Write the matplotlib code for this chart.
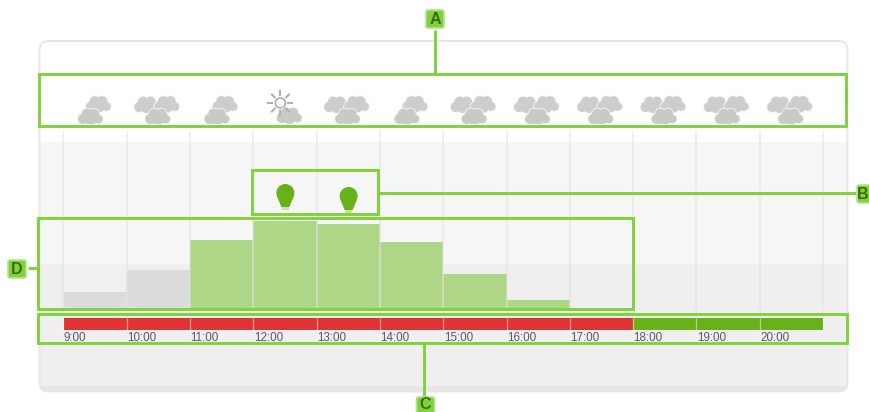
import math
import matplotlib
matplotlib.use("Agg")
import matplotlib.pyplot as plt
from matplotlib.patches import Circle, FancyBboxPatch, Polygon, Rectangle

# ---- data ----
hours = [9, 10, 11, 12, 13, 14, 15, 16, 17, 18, 19, 20]
hour_labels = ["9:00", "10:00", "11:00", "12:00", "13:00", "14:00",
               "15:00", "16:00", "17:00", "18:00", "19:00", "20:00"]
production = [17, 39, 69, 88, 85, 67, 35, 9, 0, 0, 0, 0]
bar_state = ["grey", "grey", "green", "green", "green", "green",
             "green", "green", "green", "green", "green", "green"]
tariff = ["red"] * 9 + ["green"] * 3
weather = ["partly", "overcast", "partly", "sun", "overcast", "partly",
           "overcast", "overcast", "overcast", "overcast", "overcast", "overcast"]
bulb_hours = [12, 13]
bulb_levels = [116, 113]

W, H = 870, 412
X0, X1 = 63.5, 823.0      # pixels of 9:00 and 21:00
BASE, TOP = 309.0, 127.0  # pixels of the bar baseline and the axes top
GREEN = "#80d23c"
BAR = {"grey": "#dcdcdc", "green": "#aed687"}
TARIFF = {"red": "#df3434", "green": "#68b118"}
plt.rcParams["font.family"] = ["Liberation Sans", "DejaVu Sans"]

fig = plt.figure(figsize=(W / 100, H / 100), dpi=100, facecolor="white")


def pixel_axes(z):
    a = fig.add_axes([0, 0, 1, 1], zorder=z)
    a.set_xlim(0, W)
    a.set_ylim(H, 0)
    a.axis("off")
    a.patch.set_alpha(0)
    return a


def hx(h):
    return X0 + (h - 9) * (X1 - X0) / 12


bg = pixel_axes(0)
panel = FancyBboxPatch((39.5, 41), 808, 350.5, boxstyle="round,pad=0,rounding_size=9",
                       fc="#efefef", ec="none")
bg.add_patch(panel)
for y0, y1, c in [(41, 142, "#ffffff"), (142, 264, "#f6f6f6"), (264, 386, "#efefef"),
                  (386, 392, "#e7e7e7")]:
    r = Rectangle((38, y0), 812, y1 - y0, fc=c, ec="none")
    bg.add_patch(r)
    r.set_clip_path(panel)
bg.add_patch(FancyBboxPatch((39.5, 41), 808, 350.5, boxstyle="round,pad=0,rounding_size=9",
                            fc="none", ec="#e6e6e6", lw=1.4))
# paler columns behind the two grey bars
bg.add_patch(Rectangle((hx(9), 142), hx(11) - hx(9), 167, fc="#f6f6f6", ec="none"))
bg.add_patch(Rectangle((hx(9), 264), hx(11) - hx(9), 45, fc="#f0f0f0", ec="none"))

# ---- bars, through real scales ----
ax = fig.add_axes([X0 / W, 1 - BASE / H, (X1 - X0) / W, (BASE - TOP) / H], zorder=1)
ax.patch.set_alpha(0)
ax.set_xlim(9, 21)
ax.set_ylim(0, BASE - TOP)
ax.axis("off")
ax.bar(hours, production, width=1, align="edge", linewidth=0,
       color=[BAR[s] for s in bar_state])

# ---- tariff strip ----
strip = fig.add_axes([X0 / W, 1 - 330 / H, (X1 - X0) / W, 12.5 / H], zorder=1)
strip.set_xlim(9, 21)
strip.set_ylim(0, 1)
strip.axis("off")
strip.bar(hours, [1] * 12, width=1, align="edge", linewidth=0,
          color=[TARIFF[t] for t in tariff])

ov = pixel_axes(2)
for h in hours + [21]:
    ov.plot([hx(h), hx(h)], [131, 309], color="#e2e2e2", lw=1.1, alpha=0.7, solid_capstyle="butt")
    ov.plot([hx(h), hx(h)], [309, 317], color="#e6e6e6", lw=1.0, solid_capstyle="butt")
    ov.plot([hx(h), hx(h)], [317.5, 330], color="#ffffff", lw=0.9, alpha=0.5, solid_capstyle="butt")
for h, t in zip(hours, hour_labels):
    ov.text(hx(h) + 0.5, 337.8, t, fontsize=8.4, color="#58586a", ha="left", va="center")


def cloud(a, x, y, s=1.0, c="#c9c9c9"):
    parts = [(-7.5, 2.5, 5), (-3.5, -2.5, 5.3), (3.5, -2.5, 5.3), (8, 2.5, 4.3), (0, 2, 6.5)]
    for dx, dy, r in parts:
        a.add_patch(Circle((x + dx * s, y + dy * s), (r + 0.9) * s, fc="#f4f4f4", ec="none"))
    for dx, dy, r in parts:
        a.add_patch(Circle((x + dx * s, y + dy * s), r * s, fc=c, ec="none"))


def sun(a, x, y):
    a.add_patch(Circle((x, y), 5, fc="#ffffff", ec="#b0b0b0", lw=1.3))
    for i in range(8):
        t = i * math.pi / 4
        a.plot([x + 8 * math.cos(t), x + 12 * math.cos(t)],
               [y + 8 * math.sin(t), y + 12 * math.sin(t)], color="#b0b0b0", lw=1.5)


for h, w in zip(hours, weather):
    cx = hx(h) + 31
    if w == "partly":
        cloud(ov, cx + 4, 104, 1.0, "#cdcdcd")
        cloud(ov, cx - 4, 116.5, 1.0)
    elif w == "overcast":
        cloud(ov, cx - 11, 104.5, 1.0, "#cdcdcd")
        cloud(ov, cx + 9, 104, 1.0, "#cdcdcd")
        cloud(ov, cx, 116.5, 1.0)
    else:
        sun(ov, cx - 4, 103)
        cloud(ov, cx + 5, 115.5, 1.0)
# flat cloud bases just above the frame
ov.add_patch(Rectangle((60, 124), 770, 6, fc="white", ec="none", zorder=3))

for h, lvl in zip(bulb_hours, bulb_levels):
    px = hx(h) + 32
    py = BASE - lvl
    ov.add_patch(Circle((px, py), 9, fc="#68b118", ec="none", zorder=3))
    ov.add_patch(Polygon([(px - 8.5, py + 3), (px + 8.5, py + 3), (px + 4, py + 14), (px - 4, py + 14)],
                         fc="#68b118", ec="none", zorder=3))
    ov.add_patch(Rectangle((px - 3.5, py + 14), 7, 3, fc="#c9dcae", ec="none", zorder=3))

# ---- green annotation frames ----
frames = [(39.5, 73.5, 806.5, 52), (251.7, 169.5, 126, 44.5), (37.7, 217.7, 595, 91.6),
          (37.7, 313.5, 809, 29.2)]
for x, y, w, h in frames:
    ov.add_patch(Rectangle((x, y), w, h, fc="none", ec=GREEN, lw=2.1, zorder=4))
ov.plot([435.5, 435.5], [30, 73], color=GREEN, lw=2.1, zorder=4, solid_capstyle="butt")
ov.plot([378, 856], [193, 193], color=GREEN, lw=2.1, zorder=4, solid_capstyle="butt")
ov.plot([28, 38], [267.5, 267.5], color=GREEN, lw=2.1, zorder=4, solid_capstyle="butt")
ov.plot([424.5, 424.5], [343, 396], color=GREEN, lw=2.1, zorder=4, solid_capstyle="butt")
boxes = [("A", 435, 19, 435, 19), ("B", 866, 194, 863, 194),
         ("C", 425.5, 406, 425.5, 404), ("D", 17, 269, 17, 269)]
for s, x, y, tx, ty in boxes:
    ov.add_patch(FancyBboxPatch((x - 9, y - 9), 18, 18, boxstyle="round,pad=0,rounding_size=2",
                                fc=GREEN, ec="#b5e48c", lw=1.2, zorder=5))
    ov.text(tx, ty + 0.5, s, fontsize=11.5, fontweight="bold", color="#3d6a12",
            ha="center", va="center", zorder=6)

fig.savefig("out.png", dpi=100, facecolor="white")
